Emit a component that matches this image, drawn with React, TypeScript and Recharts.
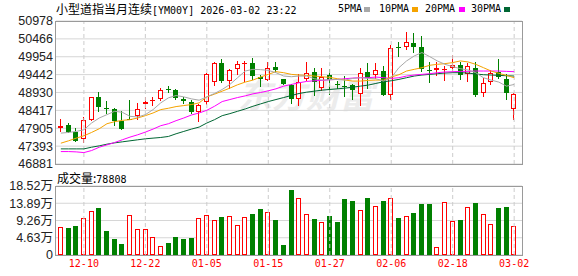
import React from 'react';
import { ComposedChart, Bar, Line, XAxis, YAxis, CartesianGrid, ReferenceLine } from 'recharts';

const dates = ['12-05','12-08','12-09','12-10','12-11','12-12','12-15','12-16','12-17','12-18','12-19','12-22','12-23','12-24','12-26','12-29','12-30','12-31','01-02','01-05','01-06','01-07','01-08','01-09','01-12','01-13','01-14','01-15','01-16','01-19','01-20','01-21','01-22','01-23','01-26','01-27','01-28','01-29','01-30','02-02','02-03','02-04','02-05','02-06','02-09','02-10','02-11','02-12','02-13','02-16','02-17','02-18','02-19','02-20','02-23','02-24','02-25','02-26','02-27','03-02'];

const open = [47911,48007,47785,47594,48151,48805,48478,48458,48102,48170,48266,48603,48689,48747,49026,48987,48757,48660,48362,48670,49228,49766,49257,49612,49757,49786,49382,49285,49670,49305,49132,48747,49305,49516,49064,49420,49170,49122,49132,48891,49516,49420,49535,48853,50247,50247,50343,50247,49574,49564,49584,49632,49709,49468,49641,48920,49237,49516,49324,48458];
const high = [48171,48055,47911,48229,48805,48938,48700,48488,48391,48708,48632,48795,48805,49064,49112,49035,48805,48709,48603,49497,49805,49882,49612,49834,49834,49911,49420,49814,49814,49324,49160,49449,49814,49641,49622,49593,49257,49401,49160,49641,49786,49766,49689,50286,50363,50670,50632,50536,49814,49805,49689,49997,49805,49766,49805,49353,49574,49882,49449,48920];
const low = [47785,47766,47525,47496,48110,48361,48300,47958,47862,48150,48131,48468,48535,48680,48901,48728,48603,48314,48074,48564,49112,49189,49016,49430,49228,49285,49093,49257,49478,49141,48612,48555,49257,48843,48968,48872,49016,48805,48728,48535,49016,49324,48843,48709,49949,50151,50074,49516,49189,49401,49257,49497,49285,49228,48805,48805,49132,49305,48709,48151];
const close = [47978,47795,47554,48151,48805,48506,48463,48102,47891,48170,48458,48660,48728,49006,49006,48776,48680,48362,48584,49468,49766,49257,49584,49737,49776,49401,49305,49641,49564,49160,48747,49228,49497,49237,49372,49285,49150,49102,48997,49497,49353,49564,48872,50218,50228,50363,50247,49593,49555,49622,49603,49728,49430,49689,48872,49208,49478,49372,48920,48891];
const volume = [75900,73000,78600,99400,118300,127400,65000,43400,29800,107500,70500,70500,48800,24400,32500,48800,43400,46000,99400,107500,94000,103000,104800,80400,103000,111000,124700,115600,94900,27100,173400,151800,110200,97600,88500,105700,89400,149000,143600,121000,151800,131900,143600,153600,100300,104800,113800,138200,138200,20800,142700,91200,94900,129200,140900,110200,83100,127400,130000,78808];

const ma5 = [47766,47785,47814,47862,48055,48199,48295,48391,48362,48247,48228,48295,48439,48632,48776,48843,48805,48747,48709,48805,48901,49016,49160,49353,49545,49593,49584,49564,49497,49401,49382,49401,49401,49324,49285,49295,49305,49285,49333,49353,49333,49324,49257,49353,49641,49834,49978,50074,49959,49834,49737,49670,49612,49574,49497,49353,49285,49228,49112,49160];
const ma10 = [47477,47545,47622,47689,47785,47891,48035,48093,48131,48151,48199,48266,48343,48439,48478,48526,48555,48584,48632,48805,48882,48968,49055,49151,49228,49285,49372,49449,49526,49497,49449,49430,49420,49401,49382,49362,49324,49285,49257,49257,49276,49285,49285,49372,49439,49545,49593,49641,49709,49737,49757,49786,49834,49805,49737,49641,49545,49478,49420,49353];
const ma20 = [47237,47237,47228,47208,47266,47362,47429,47497,47574,47651,47718,47795,47881,47978,48035,48122,48199,48285,48343,48420,48535,48670,48728,48785,48833,48891,48930,48978,49035,49112,49160,49208,49247,49266,49276,49295,49305,49324,49343,49353,49353,49372,49353,49333,49353,49401,49430,49449,49468,49497,49516,49526,49535,49535,49545,49545,49545,49545,49535,49526];
const ma30 = [47314,47314,47314,47314,47362,47401,47449,47487,47516,47545,47574,47603,47622,47641,47670,47747,47814,47881,47939,48055,48151,48266,48324,48391,48458,48535,48603,48670,48728,48785,48843,48901,48939,48968,48997,49016,49035,49055,49083,49112,49141,49189,49237,49266,49305,49353,49401,49430,49449,49468,49487,49497,49497,49487,49459,49439,49430,49420,49410,49401];

const labelDates = ['12-10','12-22','01-05','01-15','01-27','02-06','02-18','03-02'];
const priceTicks = [46881,47393,47905,48417,48930,49442,49954,50466,50978];
const volTicks = [0,46300,92600,138900,185200];

const RED = '#ff0000';
const GREEN = '#008000';
const MONO = "'DejaVu Sans Mono', monospace";
const CJK = "'Noto Sans CJK SC', sans-serif";
const AXIS_FONT = "'Liberation Sans', 'Noto Sans CJK SC', sans-serif";

const data = dates.map((d, i) => ({
  date: d,
  open: open[i],
  high: high[i],
  low: low[i],
  close: close[i],
  range: [low[i], high[i]],
  vol: volume[i],
  ma5: ma5[i],
  ma10: ma10[i],
  ma20: ma20[i],
  ma30: ma30[i],
}));

function Candle(props: any) {
  const { x, y, width, height, payload } = props;
  const { open: o, close: c, high: h, low: l } = payload;
  const top = Math.min(y, y + height);
  const span = Math.abs(height);
  const ppu = span / (h - l || 1);
  const up = c > o;
  const color = up ? RED : GREEN;
  const left = Math.round(x + width / 2 - 2.5);
  const cx = left + 2.5;
  const bTop = Math.round(top + (h - Math.max(o, c)) * ppu);
  const bBot = Math.round(top + (h - Math.min(o, c)) * ppu);
  const yHigh = Math.round(top);
  const yLow = Math.round(top + span);
  if (bBot - bTop < 2) {
    return (
      <g>
        <line x1={cx} x2={cx} y1={yHigh} y2={yLow} stroke={color} />
        <line x1={left} x2={left + 5} y1={bTop + 0.5} y2={bTop + 0.5} stroke={color} />
      </g>
    );
  }
  if (up) {
    return (
      <g>
        <line x1={cx} x2={cx} y1={yHigh} y2={bTop} stroke={color} />
        <line x1={cx} x2={cx} y1={bBot} y2={yLow} stroke={color} />
        <rect x={left + 0.5} y={bTop + 0.5} width={4} height={bBot - bTop - 1} fill="#fff" stroke={color} />
      </g>
    );
  }
  return (
    <g>
      <line x1={cx} x2={cx} y1={yHigh} y2={yLow} stroke={color} />
      <rect x={left} y={bTop} width={5} height={bBot - bTop} fill={color} />
    </g>
  );
}

function VolBar(props: any) {
  const { x, y, width, height, payload } = props;
  const up = payload.close >= payload.open;
  const left = Math.round(x + width / 2 - 2.5);
  const top = Math.round(y);
  const bottom = Math.round(y + height);
  if (up) {
    return <rect x={left + 0.5} y={top + 0.5} width={4} height={bottom - top - 1} fill="#fff" stroke={RED} />;
  }
  return <rect x={left} y={top} width={5} height={bottom - top} fill={GREEN} />;
}

const volFormat = (v: number) => (v === 0 ? '0' : (v / 10000).toFixed(2) + '万');

const legend = [
  { name: '5PMA', color: '#a8a8a8', x: 338, sq: 364 },
  { name: '10PMA', color: '#f5a300', x: 379, sq: 412 },
  { name: '20PMA', color: '#ff00ff', x: 425, sq: 459 },
  { name: '30PMA', color: '#006633', x: 471, sq: 504 },
];

export default function App() {
  const abs = (l: number, t: number): React.CSSProperties => ({ position: 'absolute', left: l, top: t });
  return (
    <div style={{ position: 'absolute', left: 0, top: 0, width: 578, height: 276, background: '#fff', overflow: 'hidden' }}>
      <div style={{ ...abs(238, 74), fontFamily: CJK, fontSize: 34, fontWeight: 700, fontStyle: 'italic', color: '#ececec', whiteSpace: 'nowrap', lineHeight: '40px' }}>
        东方财富
      </div>
      <div style={{ ...abs(56, 1), whiteSpace: 'nowrap', lineHeight: '16px', color: '#000' }}>
        <span style={{ fontFamily: CJK, fontSize: 12 }}>小型道指当月连续</span>
        <span style={{ fontFamily: MONO, fontSize: 10 }}>[YM00Y] 2026-03-02 23:22</span>
      </div>
      {legend.map((it) => (
        <React.Fragment key={it.name}>
          <div style={{ ...abs(it.x, 1), fontFamily: MONO, fontSize: 10, lineHeight: '16px', color: '#000' }}>{it.name}</div>
          <div style={{ ...abs(it.sq, 7), width: 6, height: 5, background: it.color }} />
        </React.Fragment>
      ))}

      <div style={abs(0, 0)}>
        <ComposedChart width={578} height={170} data={data} margin={{ top: 21, right: 56, bottom: 6, left: 0 }}>
          <CartesianGrid vertical={false} stroke="#d6d6d6" />
          {labelDates.map((d) => (
            <ReferenceLine key={d} x={d} stroke="#cccccc" strokeDasharray="4 3" />
          ))}
          <XAxis dataKey="date" hide padding={{ left: 1, right: 4 }} />
          <YAxis
            domain={[46881, 50978]}
            ticks={priceTicks}
            interval={0}
            allowDataOverflow
            width={56}
            tickLine={false}
            axisLine={false}
            tickSize={0}
            tickMargin={3}
            tick={{ fontSize: 12.5, fill: '#222', fontFamily: AXIS_FONT }}
          />
          <Bar dataKey="range" barSize={5} shape={<Candle />} isAnimationActive={false} />
          <Line type="linear" dataKey="ma30" stroke="#006633" strokeWidth={1} dot={false} activeDot={false} isAnimationActive={false} />
          <Line type="linear" dataKey="ma20" stroke="#ff00ff" strokeWidth={1} dot={false} activeDot={false} isAnimationActive={false} />
          <Line type="linear" dataKey="ma10" stroke="#f5a300" strokeWidth={1} dot={false} activeDot={false} isAnimationActive={false} />
          <Line type="linear" dataKey="ma5" stroke="#a8a8a8" strokeWidth={1} dot={false} activeDot={false} isAnimationActive={false} />
        </ComposedChart>
      </div>

      <div style={{ ...abs(57, 170), whiteSpace: 'nowrap', lineHeight: '16px', color: '#000' }}>
        <span style={{ fontFamily: CJK, fontSize: 12 }}>成交量:</span>
        <span style={{ fontFamily: MONO, fontSize: 10 }}>78808</span>
      </div>

      <div style={abs(0, 170)}>
        <ComposedChart width={578} height={106} data={data} margin={{ top: 16, right: 56, bottom: 0, left: 0 }}>
          <CartesianGrid vertical={false} stroke="#d6d6d6" />
          {labelDates.map((d) => (
            <ReferenceLine key={d} x={d} stroke="#cccccc" strokeDasharray="4 3" />
          ))}
          <XAxis
            dataKey="date"
            ticks={labelDates}
            interval={0}
            height={21}
            padding={{ left: 1, right: 4 }}
            tickLine={false}
            axisLine={false}
            tickSize={0}
            tickMargin={5}
            tick={{ fontSize: 10, fill: RED, fontFamily: MONO }}
          />
          <YAxis
            domain={[0, 185200]}
            ticks={volTicks}
            interval={0}
            allowDataOverflow
            width={56}
            tickLine={false}
            axisLine={false}
            tickSize={0}
            tickMargin={3}
            tickFormatter={volFormat}
            tick={{ fontSize: 12.5, fill: '#222', fontFamily: AXIS_FONT }}
          />
          <Bar dataKey="vol" barSize={5} shape={<VolBar />} isAnimationActive={false} />
        </ComposedChart>
      </div>

      <div style={{ ...abs(55, 21), width: 468, height: 144, border: '1px solid #9a9a9a', boxSizing: 'border-box', pointerEvents: 'none' }} />
      <div style={{ ...abs(55, 186), width: 468, height: 70, border: '1px solid #9a9a9a', boxSizing: 'border-box', pointerEvents: 'none' }} />
    </div>
  );
}
